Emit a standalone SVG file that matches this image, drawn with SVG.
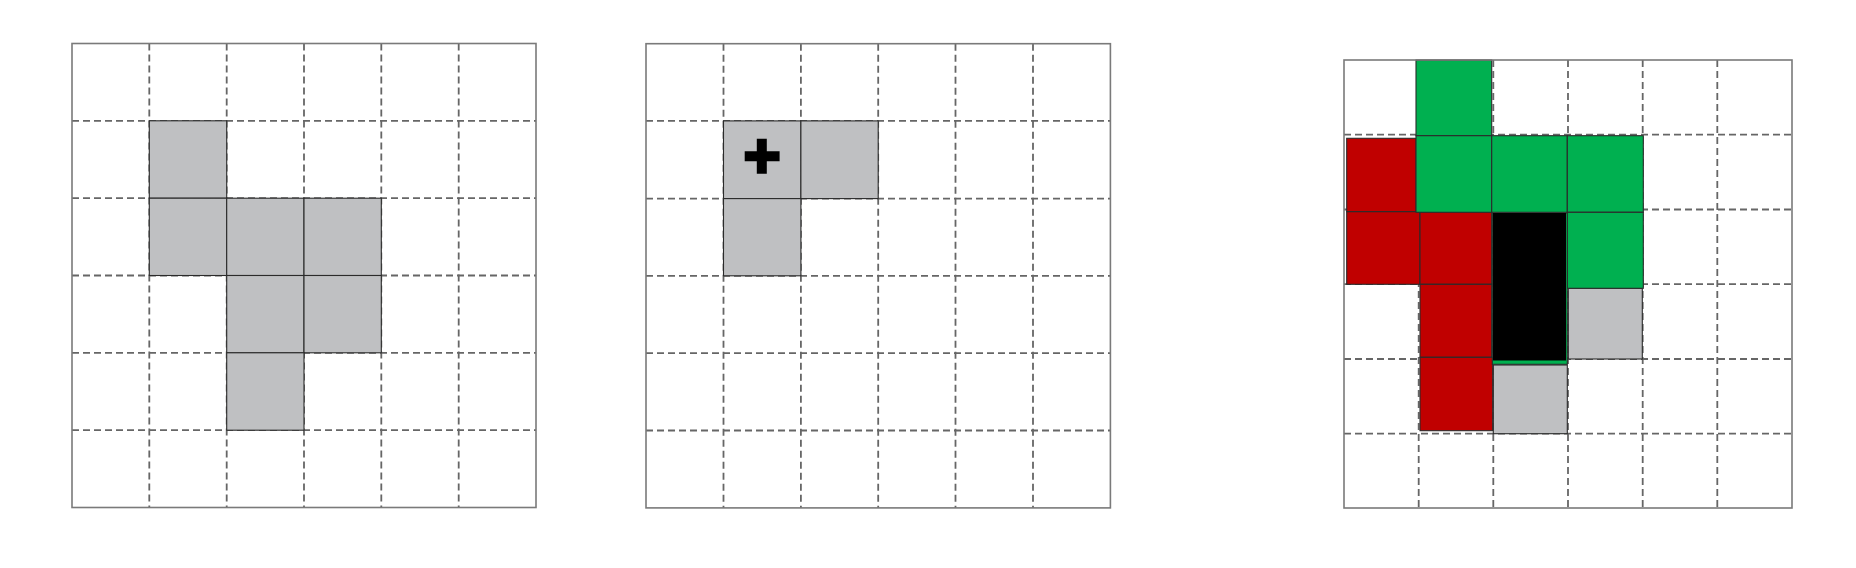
<svg xmlns="http://www.w3.org/2000/svg" width="1856" height="568" viewBox="0 0 1856 568">
<style>
.bg{fill:#ffffff}
.dash{stroke:#666666;stroke-width:1.8;stroke-dasharray:7 4;fill:none}
.frame{fill:none;stroke:#7a7a7a;stroke-width:1.6}
.cell{stroke:#2b2b2b;stroke-width:1.1}
.gray{fill:#bfc0c2}
.red{fill:#c00000}
.green{fill:#00b050}
.black{fill:#000000}
</style>
<rect class="bg" x="0" y="0" width="1856" height="568"/>

<g id="grid1">
  <g class="dash">
    <path d="M149.3 43.5V507.5M226.7 43.5V507.5M304 43.5V507.5M381.3 43.5V507.5M458.7 43.5V507.5"/>
    <path d="M72 120.8H536M72 198.2H536M72 275.5H536M72 352.8H536M72 430.2H536"/>
  </g>
  <g class="cell gray">
    <rect x="149.3" y="120.8" width="77.4" height="77.4"/>
    <rect x="149.3" y="198.2" width="77.4" height="77.3"/>
    <rect x="226.7" y="198.2" width="77.3" height="77.3"/>
    <rect x="304" y="198.2" width="77.3" height="77.3"/>
    <rect x="226.7" y="275.5" width="77.3" height="77.3"/>
    <rect x="304" y="275.5" width="77.3" height="77.3"/>
    <rect x="226.7" y="352.8" width="77.3" height="77.4"/>
  </g>
  <rect class="frame" x="72" y="43.5" width="464" height="464"/>
</g>

<g id="grid2">
  <g class="dash">
    <path d="M723.5 43.7V507.9M800.9 43.7V507.9M878.2 43.7V507.9M955.5 43.7V507.9M1033 43.7V507.9"/>
    <path d="M646 120.9H1110.4M646 198.6H1110.4M646 275.8H1110.4M646 353.1H1110.4M646 430.5H1110.4"/>
  </g>
  <g class="cell gray">
    <rect x="723.5" y="120.9" width="77.4" height="77.7"/>
    <rect x="800.9" y="120.9" width="77.3" height="77.7"/>
    <rect x="723.5" y="198.6" width="77.4" height="77.2"/>
  </g>
  <path id="cross" class="black" d="M756.8 138.8H766.8V151.2H779.6V161.3H766.8V173.7H756.8V161.3H744.7V151.2H756.8Z"/>
  <rect class="frame" x="646" y="43.7" width="464.4" height="464.2"/>
</g>

<g id="grid3">
  <g class="dash">
    <path d="M1418.7 60V508M1493.3 60V508M1568 60V508M1642.7 60V508M1717.3 60V508"/>
    <path d="M1344 134.7H1792M1344 209.5H1792M1344 284.2H1792M1344 359H1792M1344 433.7H1792"/>
  </g>
  <g class="cell">
    <rect class="gray" x="1568.3" y="288.3" width="74" height="70.7"/>
    <rect class="gray" x="1493.3" y="365" width="74" height="68.7"/>
    <rect class="red" x="1346.7" y="138.3" width="69.3" height="73.4"/>
    <rect class="red" x="1346.7" y="211.7" width="73.3" height="72.6"/>
    <rect class="red" x="1420" y="211.7" width="71.7" height="72.6"/>
    <rect class="red" x="1420" y="284.3" width="71.7" height="73"/>
    <rect class="red" x="1420" y="357.3" width="72.7" height="73.4"/>
    <rect class="green" x="1416" y="60" width="75.7" height="75.7"/>
    <rect class="green" x="1416" y="135.7" width="75.7" height="76.6"/>
    <rect class="green" x="1491.7" y="135.7" width="75.6" height="76.6"/>
    <rect class="green" x="1567.3" y="135.7" width="76" height="76.6"/>
    <rect class="green" x="1567.3" y="212.3" width="76" height="76"/>
    <rect class="green" x="1492.3" y="213" width="75" height="151.3"/>
    <rect class="black" x="1493" y="213" width="73" height="147.5" style="stroke:none"/>
  </g>
  <rect class="frame" x="1344" y="60" width="448" height="448"/>
</g>
</svg>
